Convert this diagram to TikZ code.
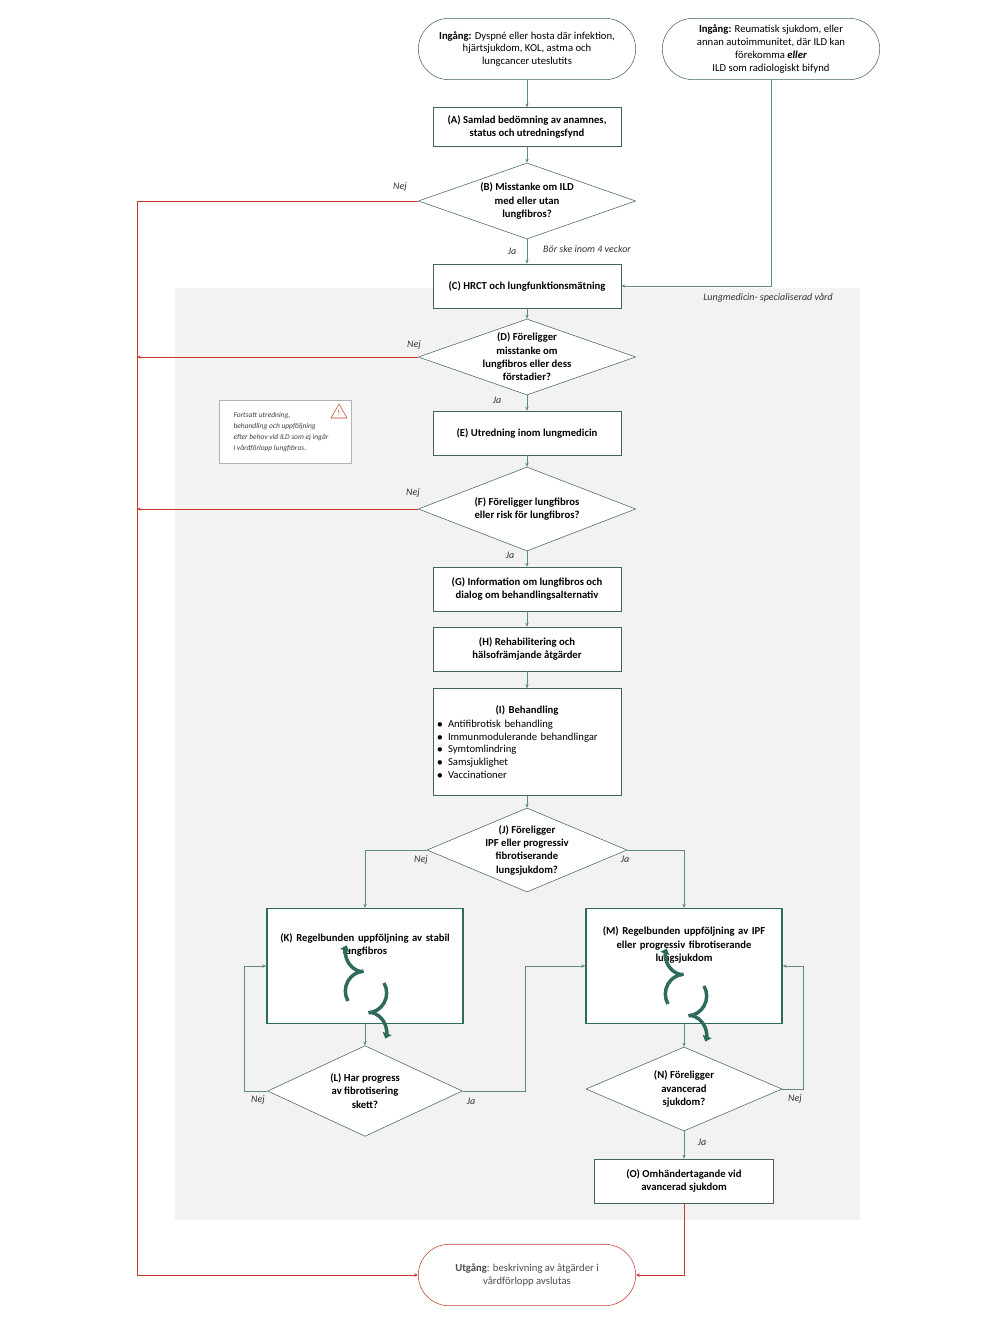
\documentclass[tikz,border=0pt]{standalone}
\usepackage{fontspec}
\setmainfont{Carlito}
\usetikzlibrary{shapes.geometric,arrows.meta}
\definecolor{linegreen}{HTML}{5E8C84}
\definecolor{boxgreen}{HTML}{2E6B5E}
\definecolor{flowred}{HTML}{C8372D}
\definecolor{bggray}{HTML}{F2F2F2}
\tikzset{
  every node/.style={font=\fontsize{8}{9.6}\selectfont},
  box/.style={draw=linegreen!70!black, fill=white, align=center, minimum width=141pt, minimum height=33pt, inner sep=2pt},
  bigbox/.style={draw=boxgreen, line width=1.2pt, fill=white, minimum width=147pt, minimum height=86pt},
  start/.style={draw=linegreen!70!black, fill=white, rounded corners=23pt, align=center, minimum width=163pt, minimum height=46pt},
  dia/.style={diamond, draw=linegreen!70!black, fill=white, inner sep=0pt, minimum width=163pt, minimum height=57pt},
  dtext/.style={align=center, font=\fontsize{8}{10}\selectfont\bfseries},
  lbl/.style={font=\fontsize{7.5}{9}\selectfont\itshape, text=black!80},
  flow/.style={draw=linegreen, -{Stealth[length=3pt,width=2.5pt]}},
  noflow/.style={draw=flowred, -{Stealth[length=3pt,width=2.5pt]}},
  cycle/.style={draw=boxgreen, line width=2.6pt, -{Triangle[length=4pt,width=7pt]}}
}
\begin{document}
\begin{tikzpicture}[x=0.75pt,y=-0.75pt]
\useasboundingbox (0,0) rectangle (1000,1333);
\fill[bggray] (175,288) rectangle (860,1220);

\node[start] (in1) at (527,49) {\textbf{Ingång:} Dyspné eller hosta där infektion,\\hjärtsjukdom, KOL, astma och\\lungcancer uteslutits};
\node[start] (in2) at (771,49) {\textbf{Ingång:} Reumatisk sjukdom, eller\\annan autoimmunitet, där ILD kan\\förekomma \textbf{\itshape eller}\\ILD som radiologiskt bifynd};
\node[box, font=\fontsize{8}{10}\selectfont\bfseries, minimum height=29pt] (A) at (527,127) {(A) Samlad bedömning av anamnes,\\status och  utredningsfynd};
\node[dia] (B) at (527,201) {};
\node[dtext] at (B) {(B) Misstanke om ILD\\med eller utan\\lungfibros?};
\node[box, font=\fontsize{8}{10}\selectfont\bfseries] (C) at (527,286) {(C) HRCT och lungfunktionsmätning};
\node[dia] (D) at (527,357) {};
\node[dtext] at (D) {(D) Föreligger\\misstanke om\\lungfibros eller dess\\förstadier?};
\node[box, font=\fontsize{8}{10}\selectfont\bfseries] (E) at (527,433) {(E) Utredning inom lungmedicin};
\node[dia, minimum height=63pt] (F) at (527,509) {};
\node[dtext] at (F) {(F) Föreligger lungfibros\\eller risk för lungfibros?};
\node[box, font=\fontsize{8}{10}\selectfont\bfseries] (G) at (527,589) {(G) Information om lungfibros och\\dialog om behandlingsalternativ};
\node[box, font=\fontsize{8}{10}\selectfont\bfseries] (H) at (527,649) {(H) Rehabilitering och\\hälsofrämjande åtgärder};
\node[box, minimum height=80pt, align=left, text width=135pt] (I) at (527,742) {\hfil\textbf{(I) Behandling}\hfil\\[1pt]
$\bullet$\enspace Antifibrotisk behandling\\$\bullet$\enspace Immunmodulerande behandlingar\\$\bullet$\enspace Symtomlindring\\$\bullet$\enspace Samsjuklighet\\$\bullet$\enspace Vaccinationer};
\node[dia, minimum width=150pt, minimum height=63pt] (J) at (527,850) {};
\node[dtext] at (J) {(J) Föreligger\\IPF eller progressiv\\fibrotiserande\\lungsjukdom?};
\node[bigbox] (K) at (365,966) {};
\node[dtext, text width=145pt] at (365,945) {(K) Regelbunden uppföljning av stabil\\lungfibros};
\node[bigbox] (M) at (684,966) {};
\node[dtext, text width=145pt] at (684,945) {(M) Regelbunden uppföljning av IPF\\eller progressiv fibrotiserande\\lungsjukdom};
\node[dia, minimum width=146pt, minimum height=68pt] (L) at (365,1091) {};
\node[dtext] at (L) {(L) Har progress\\av fibrotisering\\skett?};
\node[dia, minimum width=147pt, minimum height=63pt] (N) at (684,1089) {};
\node[dtext] at (N) {(N) Föreligger\\avancerad\\sjukdom?};
\node[box, minimum width=134pt, font=\fontsize{8}{10}\selectfont\bfseries] (O) at (684,1181) {(O) Omhändertagande  vid\\avancerad sjukdom};
\node[start, draw=flowred, text=black!70] (out) at (527,1275) {\textbf{Utgång}: beskrivning av åtgärder i\\vårdförlopp avslutas};
\node[draw=black!30, fill=white, minimum width=99pt, minimum height=47pt] (warn) at (285,432) {};
\node[align=left, font=\fontsize{5.6}{8.2}\selectfont\itshape, text=black!75] at (281,432) {Fortsatt utredning,\\behandling och uppföljning\\efter behov vid ILD som ej ingår\\i vårdförlopp lungfibros.};
\draw[flowred, line join=round] (331,418) -- (339,404) -- (347,418) -- cycle;
\node[font=\fontsize{6}{6}\selectfont, text=flowred, inner sep=0] at (339,413) {!};

% cycle icons
\foreach \cx/\cy in {366/992, 686/995}{
  \draw[cycle] (\cx-4,\cy-20) arc (100:200:20);
  \draw[cycle] (\cx+4,\cy+20) arc (-80:20:20);
  \draw[boxgreen, line width=2.6pt] (\cx-18,\cy+9) arc (150:265:20);
  \draw[boxgreen, line width=2.6pt] (\cx+18,\cy-9) arc (-30:85:20);
}

% connectors
\draw[flow] (in1) -- (A);
\draw[flow] (A) -- (B);
\draw[flow] (B) -- (C);
\draw[flow] (in2.south) |- (C.east);
\draw[flow] (C) -- (D);
\draw[flow] (D) -- (E);
\draw[flow] (E) -- (F);
\draw[flow] (F) -- (G);
\draw[flow] (G) -- (H);
\draw[flow] (H) -- (I);
\draw[flow] (I) -- (J);
\draw[flow] (J.west) -| (K.north);
\draw[flow] (J.east) -| (M.north);
\draw[flow] (K) -- (L);
\draw[flow] (L.west) -- (244,1091) |- (K.west);
\draw[flow] (L.east) -- (525,1091) |- (M.west);
\draw[flow] (M) -- (N);
\draw[flow] (N.east) -- (803,1089) |- (M.east);
\draw[flow] (N) -- (O);
\draw[noflow] (O.south) |- (out.east);
\draw[noflow] (B.west) -- (137,201) |- (out.west);
\draw[noflow] (D.west) -- (137,357);
\draw[noflow] (F.west) -- (137,509);

% labels
\node[lbl] at (400,187) {Nej};
\node[lbl] at (512,251) {Ja};
\node[lbl] at (587,249) {Bör ske inom 4 veckor};
\node[lbl] at (768,298) {Lungmedicin- specialiserad vård};
\node[lbl] at (414,345) {Nej};
\node[lbl] at (497,400) {Ja};
\node[lbl] at (413,493) {Nej};
\node[lbl] at (510,555) {Ja};
\node[lbl] at (421,860) {Nej};
\node[lbl] at (625,859) {Ja};
\node[lbl] at (258,1100) {Nej};
\node[lbl] at (471,1101) {Ja};
\node[lbl] at (795,1099) {Nej};
\node[lbl] at (702,1142) {Ja};
\end{tikzpicture}
\end{document}
